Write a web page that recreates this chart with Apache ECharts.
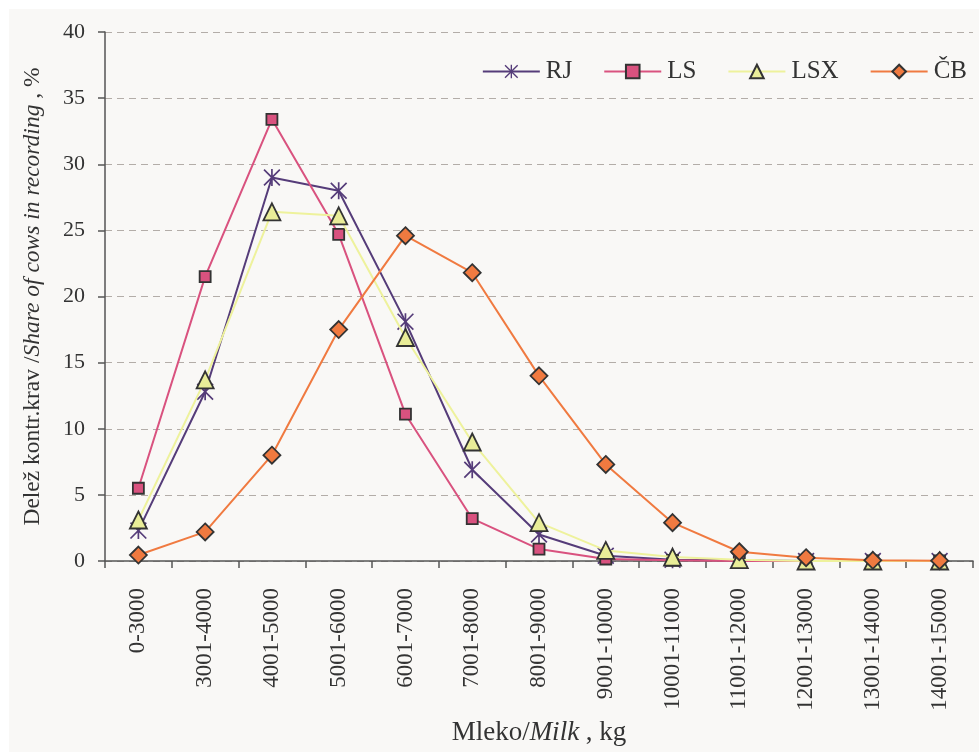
<!DOCTYPE html>
<html>
<head>
<meta charset="utf-8">
<script src="https://cdn.jsdelivr.net/npm/echarts@6/dist/echarts.min.js"></script>
<style>
  html, body { margin: 0; padding: 0; background: #ffffff; }
  #chart { width: 979px; height: 752px; }
</style>
</head>
<body>
<div id="chart"></div>
<script>
// ---- data ----
const categories = ['0-3000', '3001-4000', '4001-5000', '5001-6000', '6001-7000', '7001-8000', '8001-9000',
  '9001-10000', '10001-11000', '11001-12000', '12001-13000', '13001-14000', '14001-15000'];
const seriesNames = ['RJ', 'LS', 'LSX', 'ČB'];
const valuesRJ  = [2.3, 12.8, 29.0, 28.0, 18.1, 6.9, 2.0, 0.4, 0.1, 0.05, 0, 0, 0];
const valuesLS  = [5.5, 21.5, 33.4, 24.7, 11.1, 3.2, 0.9, 0.15, 0.05, 0, 0, 0, 0];
const valuesLSX = [3.1, 13.7, 26.4, 26.1, 16.9, 9.0, 2.9, 0.8, 0.3, 0.1, 0, 0, 0];
const valuesCB  = [0.45, 2.2, 8.0, 17.5, 24.6, 21.8, 14.0, 7.3, 2.9, 0.7, 0.25, 0.05, 0.02];
const yTicks = { min: 0, max: 40, interval: 5 };

// ---- styling ----
const FONT = '"Liberation Serif", "Times New Roman", serif';
const TXT = '#333333';
const asterisk = 'path://M9 0 L11 0 L11 20 L9 20 Z M1.4 0 L20 18.6 L18.6 20 L0 1.4 Z M18.6 0 L20 1.4 L1.4 20 L0 18.6 Z';

const chart = echarts.init(document.getElementById('chart'), null, { renderer: 'canvas' });

function lineSeries(name, data, symbol, size, fill, border, lineColor, z) {
  return {
    name: name,
    type: 'line',
    data: data,
    symbol: symbol,
    symbolSize: size,
    showAllSymbol: true,
    z: z,
    lineStyle: { color: lineColor, width: 2 },
    itemStyle: { color: fill, borderColor: border || fill, borderWidth: border ? 1.8 : 0 },
    emphasis: { disabled: true },
    animation: false
  };
}

const option = {
  backgroundColor: '#f9f8f6',
  animation: false,
  graphic: [
    { type: 'rect', shape: { x: 0, y: 0, width: 979, height: 9 }, style: { fill: '#ffffff' }, z: -10 },
    { type: 'rect', shape: { x: 0, y: 0, width: 9, height: 752 }, style: { fill: '#ffffff' }, z: -10 }
  ],
  grid: { left: 105, right: 6, top: 32, bottom: 191, containLabel: false },
  legend: {
    right: 7, top: 54,
    itemWidth: 57, itemHeight: 17, itemGap: 31,
    textStyle: { fontFamily: FONT, fontSize: 25, color: TXT, padding: [0, 0, 0, 1] },
    data: seriesNames
  },
  xAxis: {
    type: 'category',
    data: categories,
    boundaryGap: true,
    axisLine: { lineStyle: { color: '#555555', width: 1.5 } },
    axisTick: { show: true, length: 7, alignWithLabel: false, lineStyle: { color: '#555555', width: 1.5 } },
    axisLabel: { rotate: 90, interval: 0, margin: 27, fontFamily: FONT, fontSize: 23, color: TXT },
    splitLine: { show: false },
    name: '{a|Mleko/}{b|Milk}{a| , kg}',
    nameLocation: 'middle',
    nameGap: 158,
    nameTextStyle: {
      rich: {
        a: { fontFamily: FONT, fontSize: 27, color: TXT },
        b: { fontFamily: FONT, fontSize: 27, color: TXT, fontStyle: 'italic' }
      }
    }
  },
  yAxis: {
    type: 'value',
    min: yTicks.min, max: yTicks.max, interval: yTicks.interval,
    axisLine: { show: true, lineStyle: { color: '#555555', width: 1.5 } },
    axisTick: { show: true, length: 7, lineStyle: { color: '#555555', width: 1.5 } },
    axisLabel: { margin: 20, fontFamily: FONT, fontSize: 22, color: TXT },
    splitLine: { show: true, lineStyle: { color: '#b3ada8', width: 1.2, type: [7, 5] } },
    name: '{a|Delež kontr.krav /}{b|Share of cows in recording}{a| , %}',
    nameLocation: 'middle',
    nameRotate: 90,
    nameGap: 60,
    nameTextStyle: {
      rich: {
        a: { fontFamily: FONT, fontSize: 23.5, color: TXT },
        b: { fontFamily: FONT, fontSize: 23.5, color: TXT, fontStyle: 'italic' }
      }
    }
  },
  series: [
    lineSeries('RJ', valuesRJ, asterisk, 17, '#553c79', null, '#553c79', 2),
    lineSeries('LS', valuesLS, 'rect', 11, '#d9527f', '#333333', '#d9527f', 3),
    lineSeries('LSX', valuesLSX, 'triangle', 17, '#e9ed98', '#333333', '#eef29c', 4),
    lineSeries('ČB', valuesCB, 'diamond', 17, '#f07a40', '#333333', '#f07a40', 5)
  ]
};
chart.setOption(option);
</script>
</body>
</html>
